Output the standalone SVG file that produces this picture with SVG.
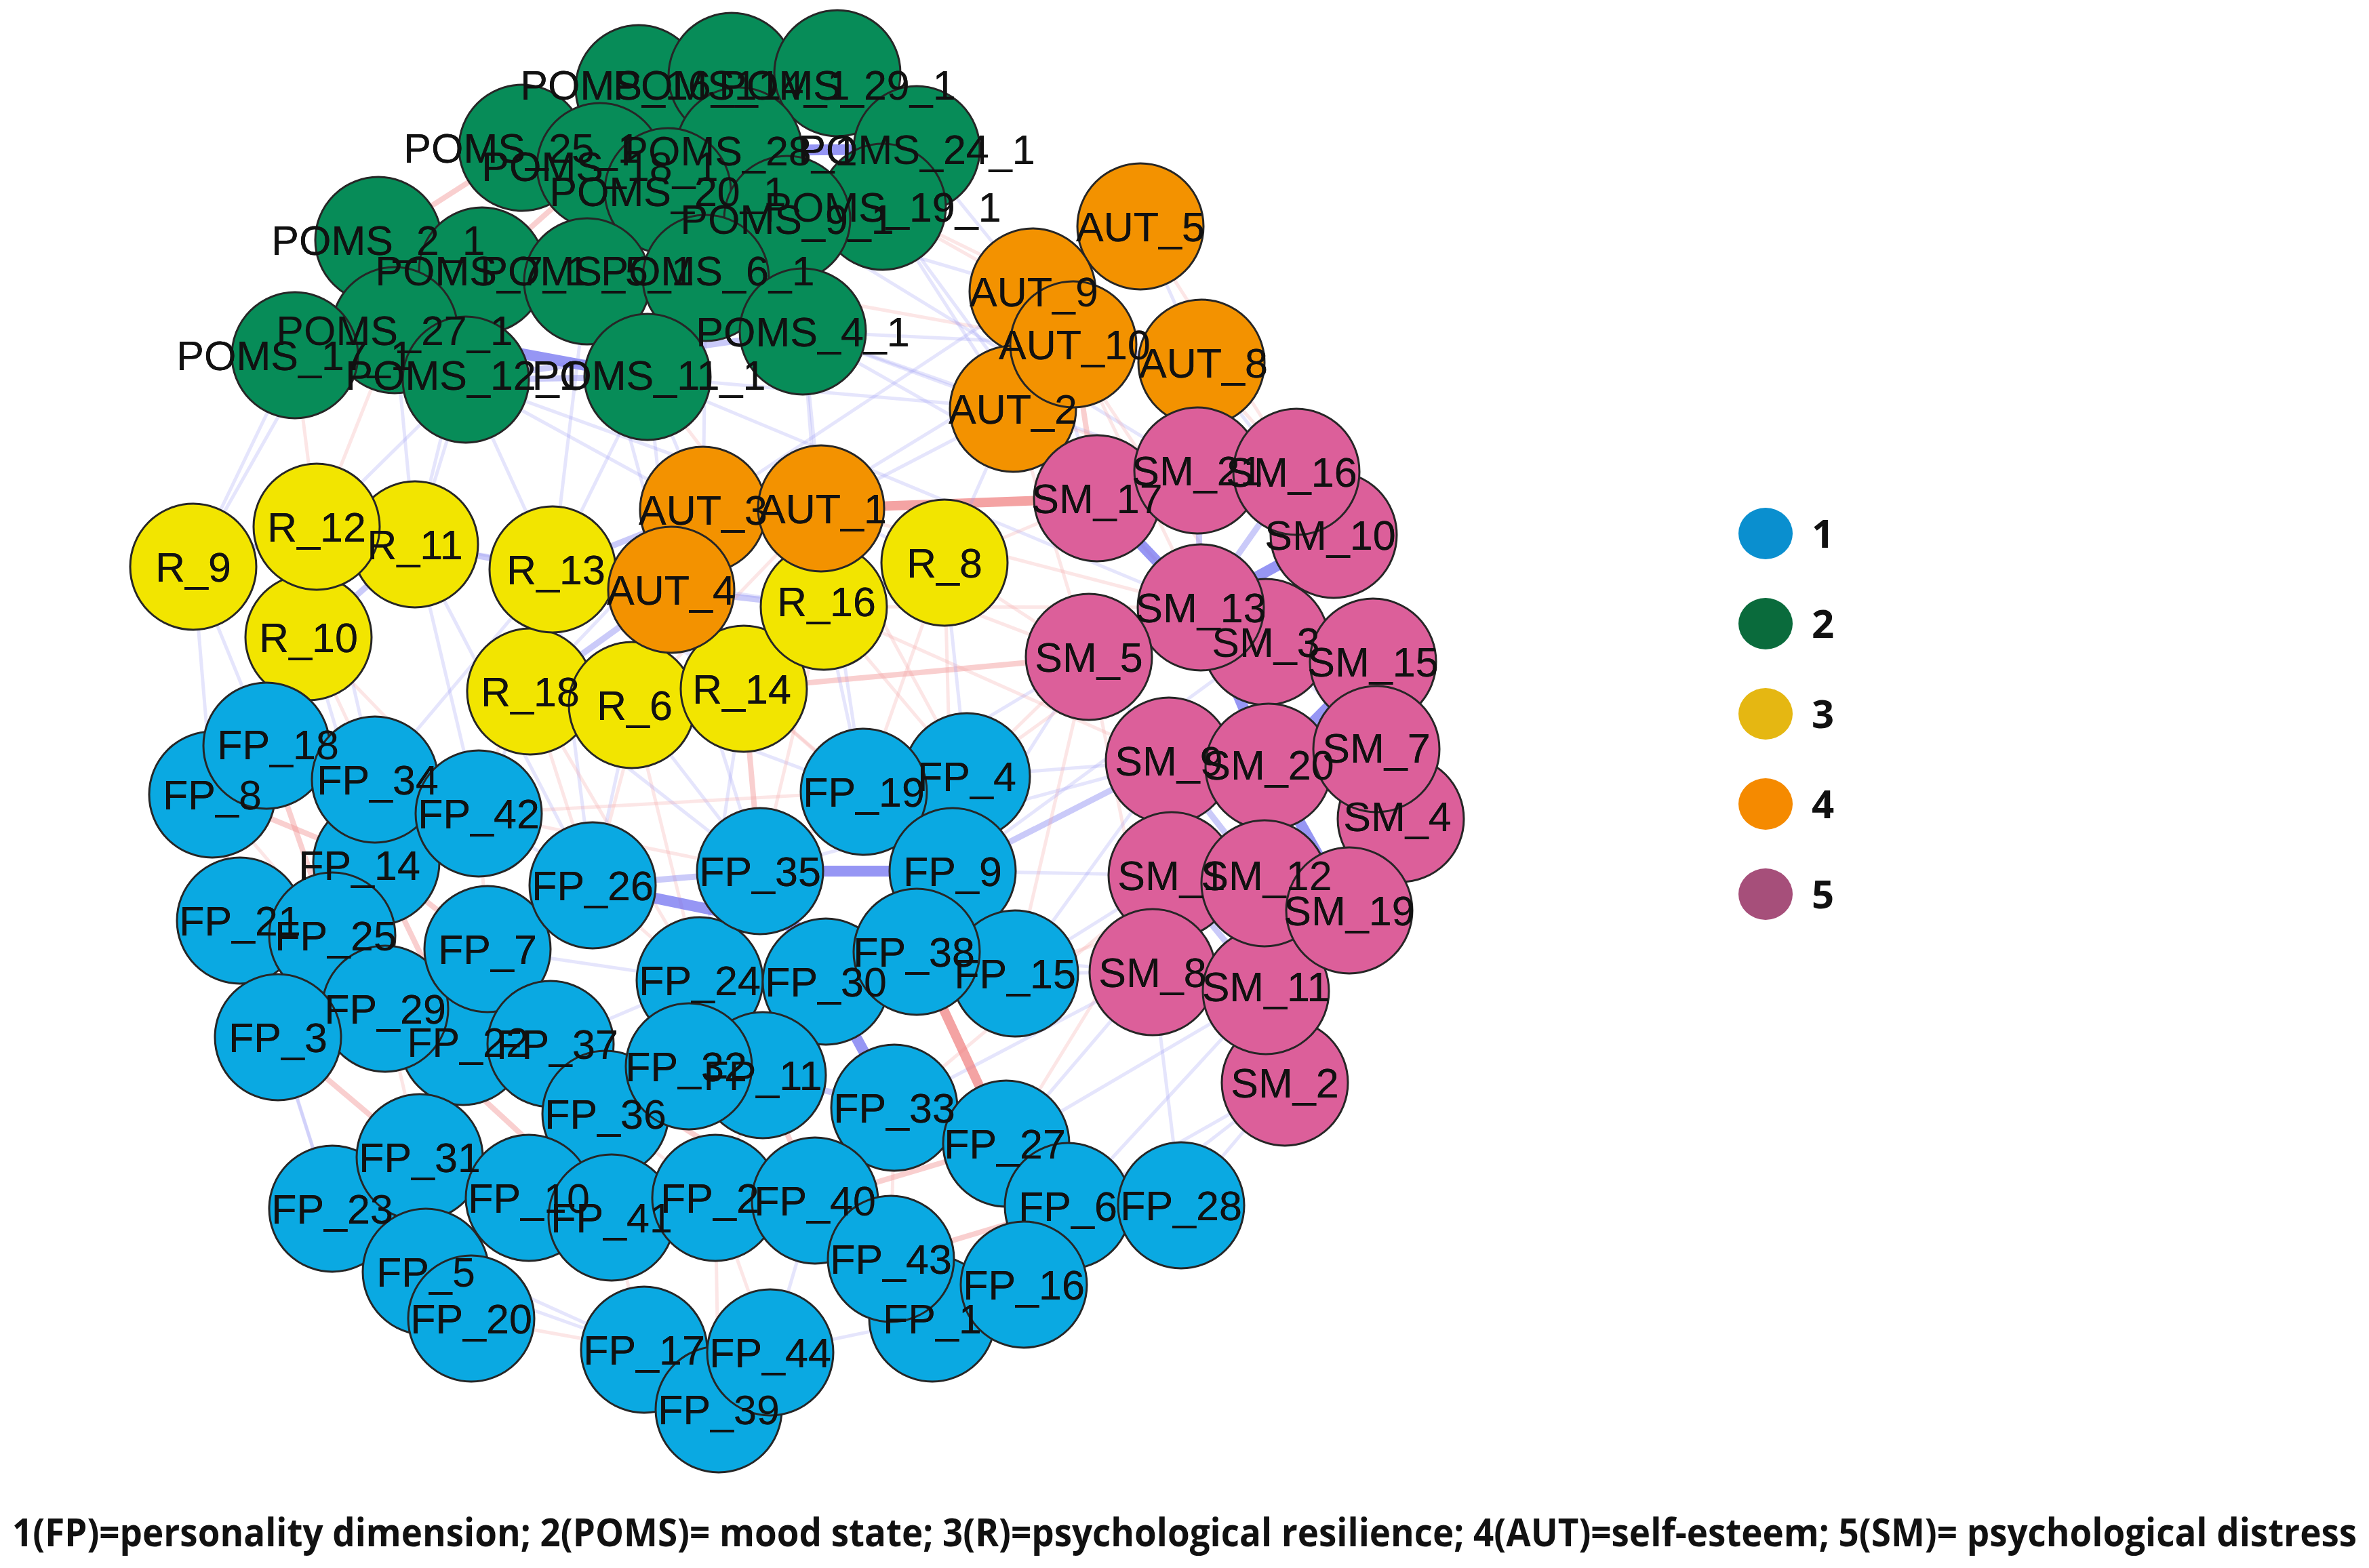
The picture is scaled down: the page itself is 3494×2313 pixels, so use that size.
<svg xmlns="http://www.w3.org/2000/svg" xmlns:xlink="http://www.w3.org/1999/xlink" width="3494" height="2313" viewBox="0 0 3494 2313">
<style>
.b1{stroke:#6a6af0;stroke-opacity:.7;stroke-width:16;stroke-linecap:round}
.b2{stroke:#8a8af2;stroke-opacity:.45;stroke-width:9;stroke-linecap:round}
.b3{stroke:#9c9cf2;stroke-opacity:.26;stroke-width:5;stroke-linecap:round}
.r1{stroke:#f07c7c;stroke-opacity:.7;stroke-width:14;stroke-linecap:round}
.r2{stroke:#f29494;stroke-opacity:.45;stroke-width:8;stroke-linecap:round}
.r3{stroke:#f4a4a4;stroke-opacity:.28;stroke-width:5;stroke-linecap:round}
.nd{stroke:#262626;stroke-width:3}
.n1{fill:#0aa9e2}.n2{fill:#078c58}.n3{fill:#f2e500}.n4{fill:#f39200}.n5{fill:#dc5f9a}
.lb{font-family:"Liberation Sans",Arial,sans-serif;font-size:61px;fill:#111;text-anchor:middle}
.lg{font-family:"Open Sans","Noto Sans",sans-serif;font-weight:bold;font-size:58px;fill:#111}
</style>
<rect width="3494" height="2313" fill="#fff"/>
<g id="connectors">
<line class="b1" x1="1090" y1="222" x2="1352" y2="220"/>
<line class="b2" x1="985" y1="282" x2="1161" y2="323"/>
<line class="b1" x1="1161" y1="323" x2="1184" y2="489"/>
<line class="b2" x1="1041" y1="410" x2="955" y2="556"/>
<line class="b1" x1="582" y1="487" x2="955" y2="556"/>
<line class="b2" x1="866" y1="415" x2="1041" y2="410"/>
<line class="b2" x1="942" y1="130" x2="985" y2="282"/>
<line class="b2" x1="1079" y1="112" x2="1090" y2="222"/>
<line class="b2" x1="1235" y1="108" x2="1302" y2="305"/>
<line class="b2" x1="770" y1="218" x2="885" y2="245"/>
<line class="b2" x1="558" y1="354" x2="582" y2="487"/>
<line class="b2" x1="435" y1="524" x2="687" y2="560"/>
<line class="b2" x1="687" y1="560" x2="955" y2="556"/>
<line class="b2" x1="687" y1="560" x2="1184" y2="489"/>
<line class="b2" x1="985" y1="282" x2="1090" y2="222"/>
<line class="b3" x1="885" y1="245" x2="866" y2="415"/>
<line class="r2" x1="558" y1="354" x2="770" y2="218"/>
<line class="r2" x1="711" y1="399" x2="885" y2="245"/>
<line class="r3" x1="1302" y1="305" x2="1523" y2="430"/>
<line class="b3" x1="955" y1="556" x2="1494" y2="603"/>
<line class="b3" x1="1184" y1="489" x2="1494" y2="603"/>
<line class="b3" x1="1184" y1="489" x2="1618" y2="735"/>
<line class="r3" x1="1041" y1="410" x2="1583" y2="508"/>
<line class="b3" x1="955" y1="556" x2="815" y2="840"/>
<line class="b3" x1="687" y1="560" x2="612" y2="803"/>
<line class="b3" x1="435" y1="524" x2="285" y2="836"/>
<line class="b3" x1="687" y1="560" x2="815" y2="840"/>
<line class="b3" x1="955" y1="556" x2="1037" y2="752"/>
<line class="b3" x1="1184" y1="489" x2="1211" y2="750"/>
<line class="r3" x1="1302" y1="305" x2="1772" y2="535"/>
<line class="b3" x1="1161" y1="323" x2="1766" y2="694"/>
<line class="r3" x1="582" y1="487" x2="467" y2="777"/>
<line class="b3" x1="711" y1="399" x2="612" y2="803"/>
<line class="b3" x1="866" y1="415" x2="990" y2="870"/>
<line class="b3" x1="955" y1="556" x2="1771" y2="896"/>
<line class="b3" x1="1184" y1="489" x2="1215" y2="895"/>
<line class="b3" x1="687" y1="560" x2="1211" y2="750"/>
<line class="b3" x1="1184" y1="489" x2="1766" y2="694"/>
<line class="b3" x1="1352" y1="220" x2="1523" y2="430"/>
<line class="b3" x1="1302" y1="305" x2="1494" y2="603"/>
<line class="b3" x1="955" y1="556" x2="990" y2="870"/>
<line class="b3" x1="687" y1="560" x2="467" y2="777"/>
<line class="r3" x1="435" y1="524" x2="467" y2="777"/>
<line class="b3" x1="582" y1="487" x2="612" y2="803"/>
<line class="b3" x1="558" y1="354" x2="285" y2="836"/>
<line class="b3" x1="866" y1="415" x2="815" y2="840"/>
<line class="b3" x1="1041" y1="410" x2="1037" y2="752"/>
<line class="b3" x1="1161" y1="323" x2="1523" y2="430"/>
<line class="b3" x1="1184" y1="489" x2="1583" y2="508"/>
<line class="r3" x1="955" y1="556" x2="1215" y2="895"/>
<line class="b3" x1="687" y1="560" x2="1037" y2="752"/>
<line class="b3" x1="1302" y1="305" x2="1618" y2="735"/>
<line class="b2" x1="1523" y1="430" x2="1682" y2="334"/>
<line class="b2" x1="1583" y1="508" x2="1772" y2="535"/>
<line class="r2" x1="1583" y1="508" x2="1618" y2="735"/>
<line class="r1" x1="1211" y1="750" x2="1618" y2="735"/>
<line class="b2" x1="1494" y1="603" x2="1583" y2="508"/>
<line class="r3" x1="1494" y1="603" x2="1766" y2="694"/>
<line class="r3" x1="1772" y1="535" x2="1766" y2="694"/>
<line class="b2" x1="1037" y1="752" x2="815" y2="840"/>
<line class="b2" x1="990" y1="870" x2="1215" y2="895"/>
<line class="b2" x1="1037" y1="752" x2="1211" y2="750"/>
<line class="b2" x1="990" y1="870" x2="782" y2="1020"/>
<line class="b3" x1="1211" y1="750" x2="1494" y2="603"/>
<line class="b3" x1="1037" y1="752" x2="1523" y2="430"/>
<line class="b3" x1="990" y1="870" x2="1583" y2="508"/>
<line class="r3" x1="1211" y1="750" x2="1771" y2="896"/>
<line class="r3" x1="1037" y1="752" x2="1606" y2="969"/>
<line class="r3" x1="1494" y1="603" x2="1771" y2="896"/>
<line class="r3" x1="1523" y1="430" x2="1867" y2="947"/>
<line class="b3" x1="1211" y1="750" x2="1393" y2="830"/>
<line class="b3" x1="1494" y1="603" x2="1393" y2="830"/>
<line class="r3" x1="1682" y1="334" x2="1912" y2="696"/>
<line class="r3" x1="990" y1="870" x2="874" y2="1306"/>
<line class="b3" x1="990" y1="870" x2="1121" y2="1285"/>
<line class="b3" x1="1037" y1="752" x2="932" y2="1040"/>
<line class="b3" x1="1211" y1="750" x2="1097" y2="1016"/>
<line class="r3" x1="1211" y1="750" x2="932" y2="1040"/>
<line class="b3" x1="1037" y1="752" x2="782" y2="1020"/>
<line class="r3" x1="1494" y1="603" x2="1606" y2="969"/>
<line class="r3" x1="1583" y1="508" x2="1771" y2="896"/>
<line class="r3" x1="1772" y1="535" x2="1912" y2="696"/>
<line class="b3" x1="1772" y1="535" x2="1967" y2="789"/>
<line class="b3" x1="1523" y1="430" x2="1618" y2="735"/>
<line class="b3" x1="1682" y1="334" x2="1772" y2="535"/>
<line class="r3" x1="1211" y1="750" x2="1426" y2="1145"/>
<line class="b3" x1="1211" y1="750" x2="1274" y2="1168"/>
<line class="b2" x1="612" y1="803" x2="815" y2="840"/>
<line class="b2" x1="467" y1="777" x2="285" y2="836"/>
<line class="b2" x1="467" y1="777" x2="455" y2="940"/>
<line class="b2" x1="612" y1="803" x2="455" y2="940"/>
<line class="b3" x1="815" y1="840" x2="782" y2="1020"/>
<line class="b3" x1="782" y1="1020" x2="932" y2="1040"/>
<line class="b3" x1="932" y1="1040" x2="1097" y2="1016"/>
<line class="b3" x1="1097" y1="1016" x2="1215" y2="895"/>
<line class="b3" x1="1215" y1="895" x2="1393" y2="830"/>
<line class="b3" x1="285" y1="836" x2="393" y2="1100"/>
<line class="r3" x1="455" y1="940" x2="553" y2="1150"/>
<line class="b3" x1="815" y1="840" x2="1097" y2="1016"/>
<line class="b3" x1="612" y1="803" x2="1215" y2="895"/>
<line class="r2" x1="1097" y1="1016" x2="1121" y2="1285"/>
<line class="r2" x1="1097" y1="1016" x2="1606" y2="969"/>
<line class="r3" x1="1215" y1="895" x2="1724" y2="1122"/>
<line class="r3" x1="1393" y1="830" x2="1606" y2="969"/>
<line class="r3" x1="1393" y1="830" x2="1618" y2="735"/>
<line class="r3" x1="782" y1="1020" x2="874" y2="1306"/>
<line class="r3" x1="932" y1="1040" x2="1032" y2="1446"/>
<line class="r3" x1="815" y1="840" x2="706" y2="1200"/>
<line class="b3" x1="782" y1="1020" x2="706" y2="1200"/>
<line class="b3" x1="932" y1="1040" x2="1274" y2="1168"/>
<line class="r3" x1="1097" y1="1016" x2="1274" y2="1168"/>
<line class="r3" x1="1215" y1="895" x2="1426" y2="1145"/>
<line class="r3" x1="1393" y1="830" x2="1405" y2="1285"/>
<line class="r3" x1="1215" y1="895" x2="1771" y2="896"/>
<line class="b3" x1="455" y1="940" x2="555" y2="1272"/>
<line class="b3" x1="467" y1="777" x2="553" y2="1150"/>
<line class="b3" x1="782" y1="1020" x2="1121" y2="1285"/>
<line class="b3" x1="932" y1="1040" x2="1121" y2="1285"/>
<line class="b3" x1="815" y1="840" x2="874" y2="1306"/>
<line class="r3" x1="782" y1="1020" x2="1032" y2="1446"/>
<line class="b3" x1="932" y1="1040" x2="874" y2="1306"/>
<line class="b3" x1="1097" y1="1016" x2="1032" y2="1446"/>
<line class="r3" x1="1097" y1="1016" x2="1405" y2="1285"/>
<line class="b3" x1="1215" y1="895" x2="1274" y2="1168"/>
<line class="r3" x1="1215" y1="895" x2="1121" y2="1285"/>
<line class="b3" x1="1393" y1="830" x2="1426" y2="1145"/>
<line class="r3" x1="1393" y1="830" x2="1274" y2="1168"/>
<line class="b3" x1="815" y1="840" x2="553" y2="1150"/>
<line class="r3" x1="455" y1="940" x2="706" y2="1200"/>
<line class="b3" x1="467" y1="777" x2="393" y2="1100"/>
<line class="b3" x1="612" y1="803" x2="706" y2="1200"/>
<line class="b3" x1="612" y1="803" x2="874" y2="1306"/>
<line class="b3" x1="285" y1="836" x2="313" y2="1172"/>
<line class="b1" x1="1967" y1="789" x2="1771" y2="896"/>
<line class="b1" x1="1618" y1="735" x2="1771" y2="896"/>
<line class="b2" x1="1766" y1="694" x2="1771" y2="896"/>
<line class="b2" x1="1912" y1="696" x2="1771" y2="896"/>
<line class="b1" x1="1771" y1="896" x2="1871" y2="1131"/>
<line class="b1" x1="2025" y1="976" x2="1871" y2="1131"/>
<line class="b1" x1="1871" y1="1131" x2="1990" y2="1343"/>
<line class="b2" x1="1724" y1="1122" x2="1865" y2="1303"/>
<line class="b2" x1="1728" y1="1291" x2="1867" y2="1462"/>
<line class="b2" x1="1867" y1="947" x2="2025" y2="976"/>
<line class="b2" x1="1912" y1="696" x2="1967" y2="789"/>
<line class="b2" x1="1618" y1="735" x2="1766" y2="694"/>
<line class="b2" x1="1606" y1="969" x2="1771" y2="896"/>
<line class="b2" x1="2030" y1="1105" x2="2066" y2="1208"/>
<line class="b2" x1="1865" y1="1303" x2="1867" y2="1462"/>
<line class="b2" x1="1700" y1="1434" x2="1867" y2="1462"/>
<line class="b3" x1="1867" y1="1462" x2="1895" y2="1597"/>
<line class="b3" x1="1606" y1="969" x2="1724" y2="1122"/>
<line class="b3" x1="1724" y1="1122" x2="1728" y2="1291"/>
<line class="b3" x1="1867" y1="947" x2="2030" y2="1105"/>
<line class="b3" x1="1990" y1="1343" x2="2066" y2="1208"/>
<line class="b3" x1="1700" y1="1434" x2="1728" y2="1291"/>
<line class="r3" x1="1606" y1="969" x2="1700" y2="1434"/>
<line class="b2" x1="1405" y1="1285" x2="1724" y2="1122"/>
<line class="b3" x1="1405" y1="1285" x2="1728" y2="1291"/>
<line class="b3" x1="1426" y1="1145" x2="1724" y2="1122"/>
<line class="b3" x1="1274" y1="1168" x2="1606" y2="969"/>
<line class="b3" x1="1497" y1="1436" x2="1700" y2="1434"/>
<line class="b3" x1="1484" y1="1687" x2="1700" y2="1434"/>
<line class="b3" x1="1742" y1="1778" x2="1895" y2="1597"/>
<line class="b3" x1="1575" y1="1779" x2="1867" y2="1462"/>
<line class="r3" x1="1319" y1="1634" x2="1728" y2="1291"/>
<line class="r3" x1="1497" y1="1436" x2="1606" y2="969"/>
<line class="r3" x1="1426" y1="1145" x2="1606" y2="969"/>
<line class="b3" x1="1742" y1="1778" x2="1700" y2="1434"/>
<line class="b3" x1="1510" y1="1895" x2="1895" y2="1597"/>
<line class="r3" x1="1484" y1="1687" x2="1728" y2="1291"/>
<line class="b3" x1="1121" y1="1285" x2="1724" y2="1122"/>
<line class="b3" x1="1606" y1="969" x2="1405" y2="1285"/>
<line class="b3" x1="1724" y1="1122" x2="1497" y2="1436"/>
<line class="r3" x1="1771" y1="896" x2="1426" y2="1145"/>
<line class="b3" x1="1867" y1="947" x2="1405" y2="1285"/>
<line class="b3" x1="1728" y1="1291" x2="1497" y2="1436"/>
<line class="b3" x1="1700" y1="1434" x2="1319" y2="1634"/>
<line class="b3" x1="1867" y1="1462" x2="1484" y2="1687"/>
<line class="b3" x1="1895" y1="1597" x2="1575" y2="1779"/>
<line class="r3" x1="1865" y1="1303" x2="1497" y2="1436"/>
<line class="b3" x1="1700" y1="1434" x2="1352" y2="1404"/>
<line class="b1" x1="1121" y1="1285" x2="1405" y2="1285"/>
<line class="b1" x1="874" y1="1306" x2="1352" y2="1404"/>
<line class="r1" x1="1352" y1="1404" x2="1484" y2="1687"/>
<line class="r2" x1="1202" y1="1771" x2="1484" y2="1687"/>
<line class="r2" x1="1314" y1="1857" x2="1575" y2="1779"/>
<line class="r2" x1="393" y1="1100" x2="490" y2="1380"/>
<line class="r2" x1="313" y1="1172" x2="354" y2="1358"/>
<line class="r2" x1="555" y1="1272" x2="683" y2="1537"/>
<line class="r2" x1="410" y1="1530" x2="619" y2="1707"/>
<line class="r2" x1="568" y1="1488" x2="902" y2="1796"/>
<line class="b3" x1="354" y1="1358" x2="490" y2="1783"/>
<line class="r2" x1="812" y1="1540" x2="1314" y2="1857"/>
<line class="b1" x1="1218" y1="1448" x2="1319" y2="1634"/>
<line class="b2" x1="1274" y1="1168" x2="1426" y2="1145"/>
<line class="b2" x1="1121" y1="1285" x2="1032" y2="1446"/>
<line class="b3" x1="874" y1="1306" x2="706" y2="1200"/>
<line class="r3" x1="706" y1="1200" x2="719" y2="1400"/>
<line class="b3" x1="553" y1="1150" x2="706" y2="1200"/>
<line class="r2" x1="555" y1="1272" x2="719" y2="1400"/>
<line class="b3" x1="490" y1="1380" x2="568" y2="1488"/>
<line class="r3" x1="719" y1="1400" x2="812" y2="1540"/>
<line class="r2" x1="812" y1="1540" x2="893" y2="1643"/>
<line class="r2" x1="619" y1="1707" x2="780" y2="1767"/>
<line class="b3" x1="780" y1="1767" x2="902" y2="1796"/>
<line class="r3" x1="893" y1="1643" x2="902" y2="1796"/>
<line class="b3" x1="1055" y1="1767" x2="1202" y2="1771"/>
<line class="b3" x1="1202" y1="1771" x2="1314" y2="1857"/>
<line class="b3" x1="1314" y1="1857" x2="1375" y2="1945"/>
<line class="b3" x1="1510" y1="1895" x2="1375" y2="1945"/>
<line class="b2" x1="1575" y1="1779" x2="1742" y2="1778"/>
<line class="b3" x1="1484" y1="1687" x2="1575" y2="1779"/>
<line class="b3" x1="1319" y1="1634" x2="1484" y2="1687"/>
<line class="b2" x1="1125" y1="1586" x2="1319" y2="1634"/>
<line class="b3" x1="1016" y1="1573" x2="1125" y2="1586"/>
<line class="r3" x1="1032" y1="1446" x2="1016" y2="1573"/>
<line class="b2" x1="1032" y1="1446" x2="1218" y2="1448"/>
<line class="b3" x1="1218" y1="1448" x2="1352" y2="1404"/>
<line class="b3" x1="1352" y1="1404" x2="1497" y2="1436"/>
<line class="b3" x1="1405" y1="1285" x2="1497" y2="1436"/>
<line class="b3" x1="1426" y1="1145" x2="1405" y2="1285"/>
<line class="b3" x1="950" y1="1991" x2="1136" y2="1995"/>
<line class="b3" x1="950" y1="1991" x2="1060" y2="2079"/>
<line class="b3" x1="1136" y1="1995" x2="1060" y2="2079"/>
<line class="b3" x1="950" y1="1991" x2="490" y2="1783"/>
<line class="b3" x1="490" y1="1783" x2="628" y2="1876"/>
<line class="b3" x1="628" y1="1876" x2="695" y2="1945"/>
<line class="r3" x1="695" y1="1945" x2="950" y2="1991"/>
<line class="r2" x1="619" y1="1707" x2="490" y2="1783"/>
<line class="r3" x1="619" y1="1707" x2="628" y2="1876"/>
<line class="r3" x1="902" y1="1796" x2="950" y2="1991"/>
<line class="r3" x1="1055" y1="1767" x2="1136" y2="1995"/>
<line class="r3" x1="1202" y1="1771" x2="1375" y2="1945"/>
<line class="r3" x1="683" y1="1537" x2="893" y2="1643"/>
<line class="r2" x1="568" y1="1488" x2="410" y2="1530"/>
<line class="r3" x1="354" y1="1358" x2="410" y2="1530"/>
<line class="r2" x1="313" y1="1172" x2="555" y2="1272"/>
<line class="b3" x1="553" y1="1150" x2="555" y2="1272"/>
<line class="b2" x1="874" y1="1306" x2="1121" y2="1285"/>
<line class="r3" x1="1274" y1="1168" x2="1121" y2="1285"/>
<line class="b3" x1="1032" y1="1446" x2="812" y2="1540"/>
<line class="r3" x1="893" y1="1643" x2="1055" y2="1767"/>
<line class="r2" x1="1125" y1="1586" x2="1202" y2="1771"/>
<line class="r3" x1="780" y1="1767" x2="1055" y2="1767"/>
<line class="b3" x1="1121" y1="1285" x2="1218" y2="1448"/>
<line class="r3" x1="874" y1="1306" x2="719" y2="1400"/>
<line class="r3" x1="706" y1="1200" x2="1274" y2="1168"/>
<line class="b3" x1="410" y1="1530" x2="490" y2="1783"/>
<line class="r3" x1="874" y1="1306" x2="1032" y2="1446"/>
<line class="r3" x1="706" y1="1200" x2="1121" y2="1285"/>
<line class="b3" x1="719" y1="1400" x2="1032" y2="1446"/>
<line class="r3" x1="893" y1="1643" x2="1016" y2="1573"/>
<line class="r2" x1="683" y1="1537" x2="619" y2="1707"/>
<line class="r3" x1="568" y1="1488" x2="619" y2="1707"/>
<line class="r3" x1="780" y1="1767" x2="893" y2="1643"/>
<line class="b3" x1="902" y1="1796" x2="1055" y2="1767"/>
<line class="r3" x1="1055" y1="1767" x2="1060" y2="2079"/>
<line class="b3" x1="1202" y1="1771" x2="1136" y2="1995"/>
<line class="r3" x1="1125" y1="1586" x2="1055" y2="1767"/>
<line class="r3" x1="1319" y1="1634" x2="1314" y2="1857"/>
<line class="b3" x1="1510" y1="1895" x2="1575" y2="1779"/>
<line class="r3" x1="1484" y1="1687" x2="1510" y2="1895"/>
<line class="b3" x1="1375" y1="1945" x2="1136" y2="1995"/>
<line class="r3" x1="490" y1="1783" x2="695" y2="1945"/>
<line class="b3" x1="628" y1="1876" x2="950" y2="1991"/>
<line class="r3" x1="354" y1="1358" x2="568" y2="1488"/>
<line class="r3" x1="313" y1="1172" x2="490" y2="1380"/>
<line class="r3" x1="553" y1="1150" x2="490" y2="1380"/>
</g>
<g id="nodes">
<g id="POMS_16_1"><circle class="nd n2" cx="942" cy="130" r="93"/><text id="t-POMS_16_1" class="lb" x="942" y="147">POMS_16_1</text></g>
<g id="POMS_14_1"><circle class="nd n2" cx="1079" cy="112" r="93"/><text id="t-POMS_14_1" class="lb" x="1079" y="147">POMS_14_1</text></g>
<g id="POMS_29_1"><circle class="nd n2" cx="1235" cy="108" r="93"/><text id="t-POMS_29_1" class="lb" x="1235" y="147">POMS_29_1</text></g>
<g id="POMS_24_1"><circle class="nd n2" cx="1352" cy="220" r="93"/><text id="t-POMS_24_1" class="lb" x="1352" y="242">POMS_24_1</text></g>
<g id="POMS_25_1"><circle class="nd n2" cx="770" cy="218" r="93"/><text id="t-POMS_25_1" class="lb" x="770" y="240">POMS_25_1</text></g>
<g id="POMS_28_1"><circle class="nd n2" cx="1090" cy="222" r="93"/><text id="t-POMS_28_1" class="lb" x="1090" y="244">POMS_28_1</text></g>
<g id="POMS_18_1"><circle class="nd n2" cx="885" cy="245" r="93"/><text id="t-POMS_18_1" class="lb" x="885" y="267">POMS_18_1</text></g>
<g id="POMS_20_1"><circle class="nd n2" cx="985" cy="282" r="93"/><text id="t-POMS_20_1" class="lb" x="985" y="304">POMS_20_1</text></g>
<g id="POMS_19_1"><circle class="nd n2" cx="1302" cy="305" r="93"/><text id="t-POMS_19_1" class="lb" x="1302" y="327">POMS_19_1</text></g>
<g id="POMS_9_1"><circle class="nd n2" cx="1161" cy="323" r="93"/><text id="t-POMS_9_1" class="lb" x="1161" y="345">POMS_9_1</text></g>
<g id="POMS_2_1"><circle class="nd n2" cx="558" cy="354" r="93"/><text id="t-POMS_2_1" class="lb" x="558" y="376">POMS_2_1</text></g>
<g id="POMS_7_1"><circle class="nd n2" cx="711" cy="399" r="93"/><text id="t-POMS_7_1" class="lb" x="711" y="421">POMS_7_1</text></g>
<g id="POMS_5_1"><circle class="nd n2" cx="866" cy="415" r="93"/><text id="t-POMS_5_1" class="lb" x="866" y="421">POMS_5_1</text></g>
<g id="POMS_6_1"><circle class="nd n2" cx="1041" cy="410" r="93"/><text id="t-POMS_6_1" class="lb" x="1044" y="421">POMS_6_1</text></g>
<g id="POMS_4_1"><circle class="nd n2" cx="1184" cy="489" r="93"/><text id="t-POMS_4_1" class="lb" x="1184" y="511">POMS_4_1</text></g>
<g id="POMS_27_1"><circle class="nd n2" cx="582" cy="487" r="93"/><text id="t-POMS_27_1" class="lb" x="582" y="509">POMS_27_1</text></g>
<g id="POMS_17_1"><circle class="nd n2" cx="435" cy="524" r="93"/><text id="t-POMS_17_1" class="lb" x="435" y="546">POMS_17_1</text></g>
<g id="POMS_12_1"><circle class="nd n2" cx="687" cy="560" r="93"/><text id="t-POMS_12_1" class="lb" x="684" y="575">POMS_12_1</text></g>
<g id="POMS_11_1"><circle class="nd n2" cx="955" cy="556" r="93"/><text id="t-POMS_11_1" class="lb" x="957" y="575">POMS_11_1</text></g>
<g id="R_9"><circle class="nd n3" cx="285" cy="836" r="93"/><text id="t-R_9" class="lb" x="285" y="858">R_9</text></g>
<g id="R_11"><circle class="nd n3" cx="612" cy="803" r="93"/><text id="t-R_11" class="lb" x="612" y="825">R_11</text></g>
<g id="R_10"><circle class="nd n3" cx="455" cy="940" r="93"/><text id="t-R_10" class="lb" x="455" y="962">R_10</text></g>
<g id="R_12"><circle class="nd n3" cx="467" cy="777" r="93"/><text id="t-R_12" class="lb" x="467" y="799">R_12</text></g>
<g id="R_18"><circle class="nd n3" cx="782" cy="1020" r="93"/><text id="t-R_18" class="lb" x="782" y="1042">R_18</text></g>
<g id="R_13"><circle class="nd n3" cx="815" cy="840" r="93"/><text id="t-R_13" class="lb" x="820" y="862">R_13</text></g>
<g id="R_6"><circle class="nd n3" cx="932" cy="1040" r="93"/><text id="t-R_6" class="lb" x="936" y="1062">R_6</text></g>
<g id="R_14"><circle class="nd n3" cx="1097" cy="1016" r="93"/><text id="t-R_14" class="lb" x="1094" y="1038">R_14</text></g>
<g id="R_16"><circle class="nd n3" cx="1215" cy="895" r="93"/><text id="t-R_16" class="lb" x="1219" y="909">R_16</text></g>
<g id="R_8"><circle class="nd n3" cx="1393" cy="830" r="93"/><text id="t-R_8" class="lb" x="1393" y="852">R_8</text></g>
<g id="AUT_3"><circle class="nd n4" cx="1037" cy="752" r="93"/><text id="t-AUT_3" class="lb" x="1037" y="774">AUT_3</text></g>
<g id="AUT_1"><circle class="nd n4" cx="1211" cy="750" r="93"/><text id="t-AUT_1" class="lb" x="1213" y="772">AUT_1</text></g>
<g id="AUT_4"><circle class="nd n4" cx="990" cy="870" r="93"/><text id="t-AUT_4" class="lb" x="990" y="892">AUT_4</text></g>
<g id="AUT_5"><circle class="nd n4" cx="1682" cy="334" r="93"/><text id="t-AUT_5" class="lb" x="1682" y="356">AUT_5</text></g>
<g id="AUT_9"><circle class="nd n4" cx="1523" cy="430" r="93"/><text id="t-AUT_9" class="lb" x="1525" y="452">AUT_9</text></g>
<g id="AUT_2"><circle class="nd n4" cx="1494" cy="603" r="93"/><text id="t-AUT_2" class="lb" x="1494" y="625">AUT_2</text></g>
<g id="AUT_10"><circle class="nd n4" cx="1583" cy="508" r="93"/><text id="t-AUT_10" class="lb" x="1585" y="530">AUT_10</text></g>
<g id="AUT_8"><circle class="nd n4" cx="1772" cy="535" r="93"/><text id="t-AUT_8" class="lb" x="1775" y="557">AUT_8</text></g>
<g id="SM_17"><circle class="nd n5" cx="1618" cy="735" r="93"/><text id="t-SM_17" class="lb" x="1618" y="757">SM_17</text></g>
<g id="SM_21"><circle class="nd n5" cx="1766" cy="694" r="93"/><text id="t-SM_21" class="lb" x="1766" y="716">SM_21</text></g>
<g id="SM_10"><circle class="nd n5" cx="1967" cy="789" r="93"/><text id="t-SM_10" class="lb" x="1962" y="811">SM_10</text></g>
<g id="SM_16"><circle class="nd n5" cx="1912" cy="696" r="93"/><text id="t-SM_16" class="lb" x="1905" y="718">SM_16</text></g>
<g id="SM_3"><circle class="nd n5" cx="1867" cy="947" r="93"/><text id="t-SM_3" class="lb" x="1867" y="969">SM_3</text></g>
<g id="SM_15"><circle class="nd n5" cx="2025" cy="976" r="93"/><text id="t-SM_15" class="lb" x="2025" y="998">SM_15</text></g>
<g id="SM_13"><circle class="nd n5" cx="1771" cy="896" r="93"/><text id="t-SM_13" class="lb" x="1771" y="918">SM_13</text></g>
<g id="SM_5"><circle class="nd n5" cx="1606" cy="969" r="93"/><text id="t-SM_5" class="lb" x="1606" y="991">SM_5</text></g>
<g id="SM_9"><circle class="nd n5" cx="1724" cy="1122" r="93"/><text id="t-SM_9" class="lb" x="1724" y="1144">SM_9</text></g>
<g id="SM_20"><circle class="nd n5" cx="1871" cy="1131" r="93"/><text id="t-SM_20" class="lb" x="1871" y="1150">SM_20</text></g>
<g id="SM_4"><circle class="nd n5" cx="2066" cy="1208" r="93"/><text id="t-SM_4" class="lb" x="2061" y="1226">SM_4</text></g>
<g id="SM_7"><circle class="nd n5" cx="2030" cy="1105" r="93"/><text id="t-SM_7" class="lb" x="2030" y="1125">SM_7</text></g>
<g id="SM_1"><circle class="nd n5" cx="1728" cy="1291" r="93"/><text id="t-SM_1" class="lb" x="1728" y="1313">SM_1</text></g>
<g id="SM_2"><circle class="nd n5" cx="1895" cy="1597" r="93"/><text id="t-SM_2" class="lb" x="1895" y="1619">SM_2</text></g>
<g id="SM_8"><circle class="nd n5" cx="1700" cy="1434" r="93"/><text id="t-SM_8" class="lb" x="1700" y="1456">SM_8</text></g>
<g id="SM_11"><circle class="nd n5" cx="1867" cy="1462" r="93"/><text id="t-SM_11" class="lb" x="1867" y="1477">SM_11</text></g>
<g id="SM_12"><circle class="nd n5" cx="1865" cy="1303" r="93"/><text id="t-SM_12" class="lb" x="1868" y="1313">SM_12</text></g>
<g id="SM_19"><circle class="nd n5" cx="1990" cy="1343" r="93"/><text id="t-SM_19" class="lb" x="1990" y="1365">SM_19</text></g>
<g id="FP_8"><circle class="nd n1" cx="313" cy="1172" r="93"/><text id="t-FP_8" class="lb" x="313" y="1194">FP_8</text></g>
<g id="FP_18"><circle class="nd n1" cx="393" cy="1100" r="93"/><text id="t-FP_18" class="lb" x="410" y="1120">FP_18</text></g>
<g id="FP_14"><circle class="nd n1" cx="555" cy="1272" r="93"/><text id="t-FP_14" class="lb" x="530" y="1298">FP_14</text></g>
<g id="FP_34"><circle class="nd n1" cx="553" cy="1150" r="93"/><text id="t-FP_34" class="lb" x="557" y="1172">FP_34</text></g>
<g id="FP_42"><circle class="nd n1" cx="706" cy="1200" r="93"/><text id="t-FP_42" class="lb" x="706" y="1222">FP_42</text></g>
<g id="FP_21"><circle class="nd n1" cx="354" cy="1358" r="93"/><text id="t-FP_21" class="lb" x="354" y="1380">FP_21</text></g>
<g id="FP_25"><circle class="nd n1" cx="490" cy="1380" r="93"/><text id="t-FP_25" class="lb" x="495" y="1402">FP_25</text></g>
<g id="FP_22"><circle class="nd n1" cx="683" cy="1537" r="93"/><text id="t-FP_22" class="lb" x="690" y="1559">FP_22</text></g>
<g id="FP_29"><circle class="nd n1" cx="568" cy="1488" r="93"/><text id="t-FP_29" class="lb" x="568" y="1510">FP_29</text></g>
<g id="FP_7"><circle class="nd n1" cx="719" cy="1400" r="93"/><text id="t-FP_7" class="lb" x="719" y="1422">FP_7</text></g>
<g id="FP_26"><circle class="nd n1" cx="874" cy="1306" r="93"/><text id="t-FP_26" class="lb" x="874" y="1328">FP_26</text></g>
<g id="FP_3"><circle class="nd n1" cx="410" cy="1530" r="93"/><text id="t-FP_3" class="lb" x="410" y="1552">FP_3</text></g>
<g id="FP_37"><circle class="nd n1" cx="812" cy="1540" r="93"/><text id="t-FP_37" class="lb" x="822" y="1562">FP_37</text></g>
<g id="FP_24"><circle class="nd n1" cx="1032" cy="1446" r="93"/><text id="t-FP_24" class="lb" x="1032" y="1468">FP_24</text></g>
<g id="FP_35"><circle class="nd n1" cx="1121" cy="1285" r="93"/><text id="t-FP_35" class="lb" x="1121" y="1307">FP_35</text></g>
<g id="FP_4"><circle class="nd n1" cx="1426" cy="1145" r="93"/><text id="t-FP_4" class="lb" x="1426" y="1167">FP_4</text></g>
<g id="FP_19"><circle class="nd n1" cx="1274" cy="1168" r="93"/><text id="t-FP_19" class="lb" x="1274" y="1190">FP_19</text></g>
<g id="FP_9"><circle class="nd n1" cx="1405" cy="1285" r="93"/><text id="t-FP_9" class="lb" x="1405" y="1307">FP_9</text></g>
<g id="FP_30"><circle class="nd n1" cx="1218" cy="1448" r="93"/><text id="t-FP_30" class="lb" x="1218" y="1470">FP_30</text></g>
<g id="FP_15"><circle class="nd n1" cx="1497" cy="1436" r="93"/><text id="t-FP_15" class="lb" x="1497" y="1458">FP_15</text></g>
<g id="FP_38"><circle class="nd n1" cx="1352" cy="1404" r="93"/><text id="t-FP_38" class="lb" x="1348" y="1426">FP_38</text></g>
<g id="FP_11"><circle class="nd n1" cx="1125" cy="1586" r="93"/><text id="t-FP_11" class="lb" x="1125" y="1608">FP_11</text></g>
<g id="FP_36"><circle class="nd n1" cx="893" cy="1643" r="93"/><text id="t-FP_36" class="lb" x="893" y="1665">FP_36</text></g>
<g id="FP_32"><circle class="nd n1" cx="1016" cy="1573" r="93"/><text id="t-FP_32" class="lb" x="1012" y="1595">FP_32</text></g>
<g id="FP_23"><circle class="nd n1" cx="490" cy="1783" r="93"/><text id="t-FP_23" class="lb" x="490" y="1805">FP_23</text></g>
<g id="FP_31"><circle class="nd n1" cx="619" cy="1707" r="93"/><text id="t-FP_31" class="lb" x="619" y="1729">FP_31</text></g>
<g id="FP_33"><circle class="nd n1" cx="1319" cy="1634" r="93"/><text id="t-FP_33" class="lb" x="1319" y="1656">FP_33</text></g>
<g id="FP_27"><circle class="nd n1" cx="1484" cy="1687" r="93"/><text id="t-FP_27" class="lb" x="1482" y="1709">FP_27</text></g>
<g id="FP_10"><circle class="nd n1" cx="780" cy="1767" r="93"/><text id="t-FP_10" class="lb" x="780" y="1789">FP_10</text></g>
<g id="FP_41"><circle class="nd n1" cx="902" cy="1796" r="93"/><text id="t-FP_41" class="lb" x="902" y="1818">FP_41</text></g>
<g id="FP_2"><circle class="nd n1" cx="1055" cy="1767" r="93"/><text id="t-FP_2" class="lb" x="1047" y="1789">FP_2</text></g>
<g id="FP_40"><circle class="nd n1" cx="1202" cy="1771" r="93"/><text id="t-FP_40" class="lb" x="1202" y="1793">FP_40</text></g>
<g id="FP_6"><circle class="nd n1" cx="1575" cy="1779" r="93"/><text id="t-FP_6" class="lb" x="1575" y="1801">FP_6</text></g>
<g id="FP_28"><circle class="nd n1" cx="1742" cy="1778" r="93"/><text id="t-FP_28" class="lb" x="1742" y="1800">FP_28</text></g>
<g id="FP_1"><circle class="nd n1" cx="1375" cy="1945" r="93"/><text id="t-FP_1" class="lb" x="1375" y="1967">FP_1</text></g>
<g id="FP_43"><circle class="nd n1" cx="1314" cy="1857" r="93"/><text id="t-FP_43" class="lb" x="1314" y="1879">FP_43</text></g>
<g id="FP_16"><circle class="nd n1" cx="1510" cy="1895" r="93"/><text id="t-FP_16" class="lb" x="1510" y="1917">FP_16</text></g>
<g id="FP_5"><circle class="nd n1" cx="628" cy="1876" r="93"/><text id="t-FP_5" class="lb" x="628" y="1898">FP_5</text></g>
<g id="FP_20"><circle class="nd n1" cx="695" cy="1945" r="93"/><text id="t-FP_20" class="lb" x="695" y="1967">FP_20</text></g>
<g id="FP_17"><circle class="nd n1" cx="950" cy="1991" r="93"/><text id="t-FP_17" class="lb" x="950" y="2013">FP_17</text></g>
<g id="FP_39"><circle class="nd n1" cx="1060" cy="2079" r="93"/><text id="t-FP_39" class="lb" x="1060" y="2101">FP_39</text></g>
<g id="FP_44"><circle class="nd n1" cx="1136" cy="1995" r="93"/><text id="t-FP_44" class="lb" x="1136" y="2017">FP_44</text></g>
</g>
<g id="label-overlay">
<use href="#t-POMS_16_1"/><use href="#t-POMS_14_1"/><use href="#t-POMS_29_1"/><use href="#t-POMS_24_1"/><use href="#t-POMS_25_1"/><use href="#t-POMS_28_1"/><use href="#t-POMS_18_1"/><use href="#t-POMS_20_1"/><use href="#t-POMS_19_1"/><use href="#t-POMS_9_1"/><use href="#t-POMS_2_1"/><use href="#t-POMS_7_1"/><use href="#t-POMS_5_1"/><use href="#t-POMS_6_1"/><use href="#t-POMS_4_1"/><use href="#t-POMS_27_1"/><use href="#t-POMS_17_1"/><use href="#t-POMS_12_1"/><use href="#t-POMS_11_1"/>
<use href="#t-R_9"/><use href="#t-R_11"/><use href="#t-R_10"/><use href="#t-R_12"/><use href="#t-R_18"/><use href="#t-R_13"/><use href="#t-R_6"/><use href="#t-R_14"/><use href="#t-R_16"/><use href="#t-R_8"/>
<use href="#t-AUT_3"/><use href="#t-AUT_1"/><use href="#t-AUT_4"/><use href="#t-AUT_5"/><use href="#t-AUT_9"/><use href="#t-AUT_2"/><use href="#t-AUT_10"/><use href="#t-AUT_8"/>
<use href="#t-SM_17"/><use href="#t-SM_21"/><use href="#t-SM_10"/><use href="#t-SM_16"/><use href="#t-SM_3"/><use href="#t-SM_15"/><use href="#t-SM_13"/><use href="#t-SM_5"/><use href="#t-SM_9"/><use href="#t-SM_20"/><use href="#t-SM_4"/><use href="#t-SM_7"/><use href="#t-SM_1"/><use href="#t-SM_2"/><use href="#t-SM_8"/><use href="#t-SM_11"/><use href="#t-SM_12"/><use href="#t-SM_19"/>
<use href="#t-FP_8"/><use href="#t-FP_18"/><use href="#t-FP_14"/><use href="#t-FP_34"/><use href="#t-FP_42"/><use href="#t-FP_21"/><use href="#t-FP_25"/><use href="#t-FP_22"/><use href="#t-FP_29"/><use href="#t-FP_7"/><use href="#t-FP_26"/><use href="#t-FP_3"/><use href="#t-FP_37"/><use href="#t-FP_24"/><use href="#t-FP_35"/><use href="#t-FP_4"/><use href="#t-FP_19"/><use href="#t-FP_9"/><use href="#t-FP_30"/><use href="#t-FP_15"/><use href="#t-FP_38"/><use href="#t-FP_11"/><use href="#t-FP_36"/><use href="#t-FP_32"/><use href="#t-FP_23"/><use href="#t-FP_31"/><use href="#t-FP_33"/><use href="#t-FP_27"/><use href="#t-FP_10"/><use href="#t-FP_41"/><use href="#t-FP_2"/><use href="#t-FP_40"/><use href="#t-FP_6"/><use href="#t-FP_28"/><use href="#t-FP_1"/><use href="#t-FP_43"/><use href="#t-FP_16"/><use href="#t-FP_5"/><use href="#t-FP_20"/><use href="#t-FP_17"/><use href="#t-FP_39"/><use href="#t-FP_44"/>
</g>
<g id="legend">
<ellipse cx="2604" cy="787" rx="40" ry="38" fill="#0a8fcf"/><text class="lg" x="2672" y="808">1</text>
<ellipse cx="2604" cy="920" rx="40" ry="38" fill="#0a6b3c"/><text class="lg" x="2672" y="941">2</text>
<ellipse cx="2604" cy="1053" rx="40" ry="38" fill="#e5b712"/><text class="lg" x="2672" y="1074">3</text>
<ellipse cx="2604" cy="1186" rx="40" ry="38" fill="#f58a00"/><text class="lg" x="2672" y="1207">4</text>
<ellipse cx="2604" cy="1319" rx="40" ry="38" fill="#a64f7a"/><text class="lg" x="2672" y="1340">5</text>
</g>
<text id="caption" class="lg" x="18" y="2281" textLength="3458" lengthAdjust="spacingAndGlyphs">1(FP)=personality dimension; 2(POMS)= mood state; 3(R)=psychological resilience; 4(AUT)=self-esteem; 5(SM)= psychological distress</text>
</svg>
